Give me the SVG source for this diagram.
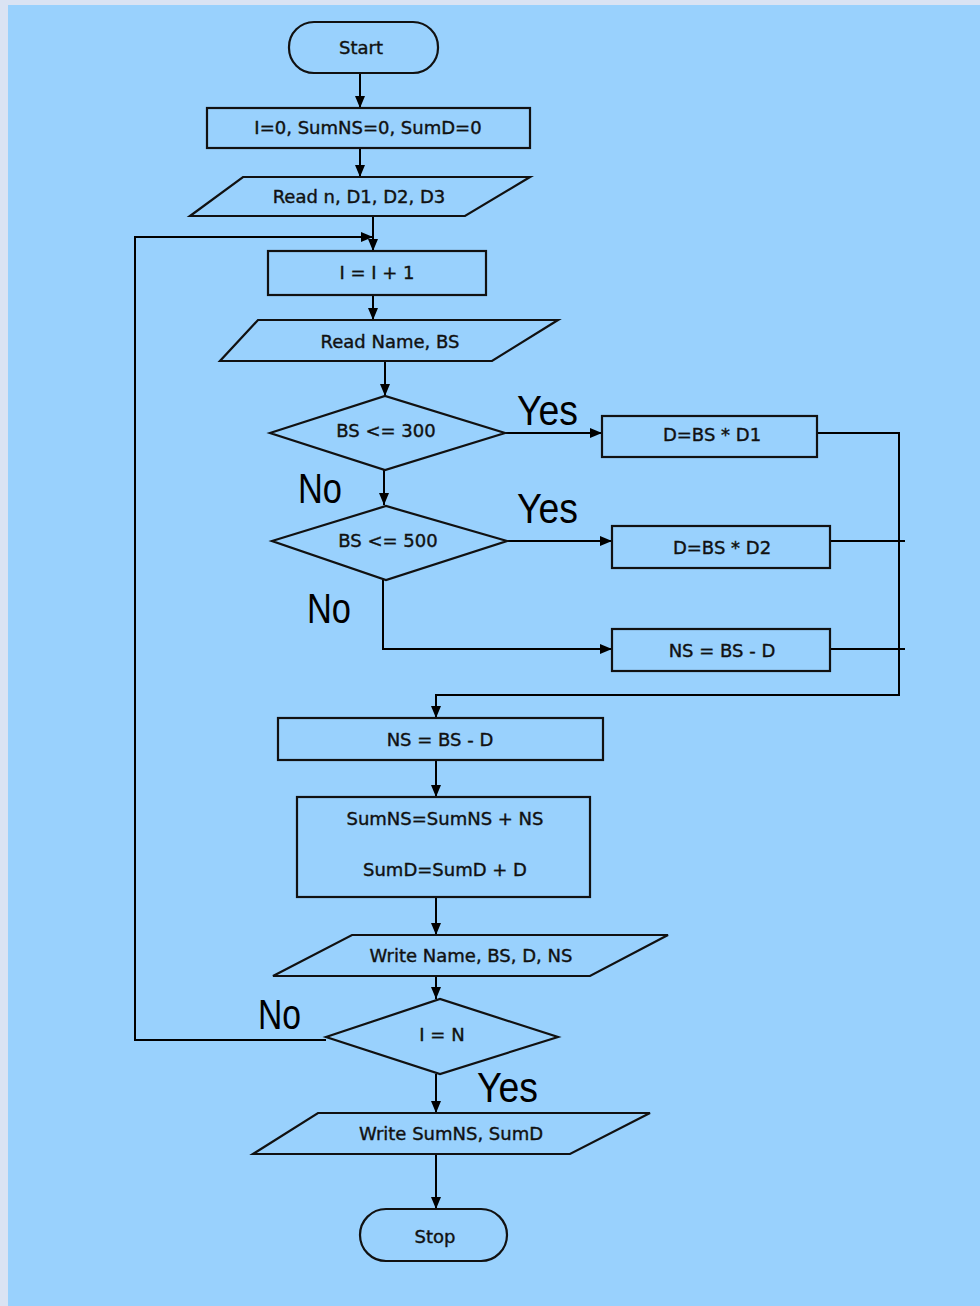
<svg xmlns="http://www.w3.org/2000/svg" width="980" height="1306" viewBox="0 0 980 1306">
<defs>
<marker id="ah" viewBox="0 0 12 10" refX="12" refY="5" markerWidth="12" markerHeight="10" markerUnits="userSpaceOnUse" orient="auto">
<path d="M0,0 L12,5 L0,10 Z" fill="#000"/>
</marker>
<style>
.s{fill:none;stroke:#111;stroke-width:2.2}
.t{font-family:"DejaVu Sans",sans-serif;font-size:18px;fill:#111;stroke:#111;stroke-width:0.4;text-anchor:middle;dominant-baseline:central}
.l{font-family:"Liberation Sans",Arial,sans-serif;font-size:42px;fill:#000}
.c{fill:none;stroke:#000;stroke-width:2}
.a{marker-end:url(#ah)}
</style>
</defs>
<rect x="0" y="0" width="980" height="1306" fill="#dae3f3"/>
<rect x="8" y="5" width="972" height="1301" fill="#99d1fd"/>

<g id="connectors">
<line class="c a" x1="360" y1="73" x2="360" y2="108"/>
<line class="c a" x1="360" y1="148" x2="360" y2="177"/>
<line class="c a" x1="373" y1="216" x2="373" y2="251"/>
<line class="c a" x1="373" y1="295" x2="373" y2="320"/>
<line class="c a" x1="385" y1="361" x2="385" y2="396"/>
<line class="c a" x1="505" y1="433" x2="602" y2="433"/>
<polyline class="c" points="817,433 899,433 899,695 436,695"/>
<line class="c a" x1="436" y1="694" x2="436" y2="718"/>
<line class="c a" x1="384" y1="470" x2="384" y2="505"/>
<line class="c a" x1="507" y1="541" x2="612" y2="541"/>
<line class="c" x1="830" y1="541" x2="905" y2="541"/>
<polyline class="c a" points="383,580 383,649 612,649"/>
<line class="c" x1="830" y1="649" x2="905" y2="649"/>
<line class="c a" x1="436" y1="760" x2="436" y2="797"/>
<line class="c a" x1="436" y1="897" x2="436" y2="935"/>
<line class="c a" x1="436" y1="976" x2="436" y2="999"/>
<polyline class="c a" points="326,1040 135,1040 135,237 373,237"/>
<line class="c a" x1="436" y1="1074" x2="436" y2="1113"/>
<line class="c a" x1="436" y1="1154" x2="436" y2="1209"/>
<text class="l" x="517" y="425" textLength="61" lengthAdjust="spacingAndGlyphs">Yes</text>
<text class="l" x="298" y="503" textLength="44" lengthAdjust="spacingAndGlyphs">No</text>
<text class="l" x="517" y="523" textLength="61" lengthAdjust="spacingAndGlyphs">Yes</text>
<text class="l" x="307" y="623" textLength="44" lengthAdjust="spacingAndGlyphs">No</text>
<text class="l" x="258" y="1029" textLength="43" lengthAdjust="spacingAndGlyphs">No</text>
<text class="l" x="477" y="1102" textLength="61" lengthAdjust="spacingAndGlyphs">Yes</text>
</g>

<g id="start">
<rect class="s" x="289" y="22" width="149" height="51" rx="25" ry="25"/>
<text class="t" x="361" y="47">Start</text>
</g>
<g id="init">
<rect class="s" x="207" y="108" width="323" height="40"/>
<text class="t" x="368" y="127">I=0, SumNS=0, SumD=0</text>
</g>
<g id="read1">
<polygon class="s" points="243,177 530,177 465,216 190,216"/>
<text class="t" x="359" y="196">Read n, D1, D2, D3</text>
</g>
<g id="incr">
<rect class="s" x="268" y="251" width="218" height="44"/>
<text class="t" x="377" y="272">I = I + 1</text>
</g>
<g id="read2">
<polygon class="s" points="258,320 558,320 492,361 220,361"/>
<text class="t" x="390" y="341">Read Name, BS</text>
</g>
<g id="dec1">
<polygon class="s" points="270,433 385,396 505,433 385,470"/>
<text class="t" x="386" y="430">BS &lt;= 300</text>
</g>
<g id="d1">
<rect class="s" x="602" y="416" width="215" height="41"/>
<text class="t" x="712" y="434">D=BS * D1</text>
</g>
<g id="dec2">
<polygon class="s" points="272,541 386,506 507,541 386,580"/>
<text class="t" x="388" y="540">BS &lt;= 500</text>
</g>
<g id="d2">
<rect class="s" x="612" y="526" width="218" height="42"/>
<text class="t" x="722" y="547">D=BS * D2</text>
</g>
<g id="ns1">
<rect class="s" x="612" y="629" width="218" height="42"/>
<text class="t" x="722" y="650">NS = BS - D</text>
</g>
<g id="ns2">
<rect class="s" x="278" y="718" width="325" height="42"/>
<text class="t" x="440" y="739">NS = BS - D</text>
</g>
<g id="sums">
<rect class="s" x="297" y="797" width="293" height="100"/>
<text class="t" x="445" y="818">SumNS=SumNS + NS</text>
<text class="t" x="445" y="869">SumD=SumD + D</text>
</g>
<g id="write1">
<polygon class="s" points="352,935 668,935 590,976 273,976"/>
<text class="t" x="471" y="955">Write Name, BS, D, NS</text>
</g>
<g id="dec3">
<polygon class="s" points="326,1037 440,999 558,1037 440,1074"/>
<text class="t" x="442" y="1034">I = N</text>
</g>
<g id="write2">
<polygon class="s" points="318,1113 650,1113 570,1154 253,1154"/>
<text class="t" x="451" y="1133">Write SumNS, SumD</text>
</g>
<g id="stop">
<rect class="s" x="360" y="1209" width="147" height="52" rx="26" ry="26"/>
<text class="t" x="435" y="1236">Stop</text>
</g>
</svg>
